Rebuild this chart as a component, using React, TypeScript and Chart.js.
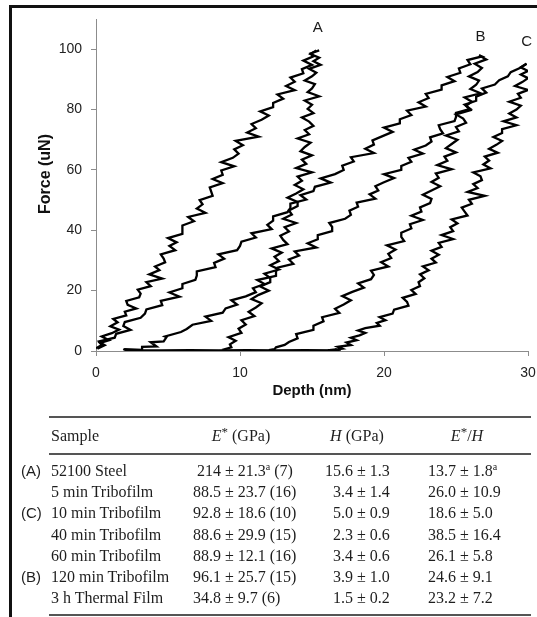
import React, { useEffect, useRef } from 'react';
import { Chart, registerables } from 'chart.js';

Chart.register(...registerables);

// ---------- chart data: [depth (nm), force (uN)] ----------
const curveALoad: [number, number][] = [
  [0.1,0.8],[0.6,1.9],[0.3,2.7],[0.9,3.6],[0.4,4.8],[1.1,5.9],[1.6,7.1],[1.0,8.2],[1.5,9.5],[1.2,10.6],
  [2.1,11.8],[2.0,13.0],[2.8,14.1],[2.2,15.3],[2.1,16.6],[3.0,17.8],[3.1,19.0],[2.9,20.3],[3.8,21.5],[3.5,22.8],
  [4.6,24.0],[3.7,25.4],[4.4,26.8],[4.1,28.0],[4.8,29.4],[4.7,30.6],[4.5,32.0],[5.5,33.4],[5.1,34.8],[5.6,36.0],
  [5.0,37.4],[6.0,38.8],[6.0,40.2],[6.0,41.6],[6.8,43.0],[6.4,44.4],[7.6,45.8],[7.0,47.2],[7.4,48.6],[7.2,50.0],
  [8.1,51.4],[8.0,52.8],[7.9,54.2],[8.8,55.6],[8.1,57.0],[8.8,58.4],[8.7,59.8],[9.6,61.2],[8.7,62.6],[9.5,64.0],
  [9.9,65.4],[9.6,66.8],[10.2,68.2],[9.7,69.6],[11.3,71.0],[10.5,72.4],[11.1,73.8],[10.8,75.2],[11.5,76.6],[12.0,78.0],
  [11.4,79.4],[12.3,80.8],[12.3,82.2],[13.0,83.6],[12.6,85.0],[13.8,86.4],[13.2,87.8],[13.8,89.2],[13.5,90.6],[14.4,92.0],
  [14.3,93.4],[15.0,94.8],[14.4,96.2],[15.1,97.6],[14.9,98.6],[15.5,99.6],
];
const curveAUnload: [number, number][] = [
  [15.3,99.6],[14.9,98.4],[15.5,97.2],[15.1,96.0],[15.6,94.8],[14.8,93.5],[15.3,92.2],[15.0,91.0],[14.5,89.6],[15.2,88.4],
  [15.0,87.0],[14.7,85.8],[15.5,84.4],[14.5,83.0],[15.0,81.6],[14.7,80.2],[15.1,78.8],[14.3,77.4],[14.8,76.0],[15.1,74.6],
  [14.5,73.2],[14.8,71.8],[14.0,70.4],[14.9,69.0],[14.5,67.6],[14.2,66.2],[15.0,64.8],[14.3,63.4],[14.6,62.0],[13.9,60.6],
  [15.0,59.2],[14.0,57.8],[14.3,56.4],[13.8,55.0],[14.4,53.6],[13.9,52.2],[13.3,50.8],[14.0,49.4],[14.0,48.0],[13.4,46.6],
  [13.6,45.2],[13.0,43.8],[13.9,42.4],[13.1,41.0],[13.4,39.6],[12.8,38.2],[13.0,36.8],[13.3,35.4],[12.2,34.0],[12.9,32.6],
  [12.4,31.2],[12.7,29.8],[12.1,28.4],[12.7,27.0],[11.7,25.6],[12.1,24.2],[12.1,22.8],[11.4,21.4],[12.0,20.0],[11.3,18.6],
  [10.8,17.2],[11.5,15.8],[11.1,14.4],[10.6,13.0],[11.0,11.6],[10.1,10.2],[10.4,8.8],[9.9,7.4],[10.1,6.0],[9.2,4.6],
  [9.7,3.4],[9.3,2.2],[9.4,1.2],[8.9,0.5],[9.0,0.2],[8.8,0.1],
];
const curveBLoad: [number, number][] = [
  [0.0,0.9],[0.4,2.0],[0.2,3.2],[1.3,4.4],[1.4,5.7],[2.4,7.0],[1.9,8.3],[2.0,9.6],[3.1,11.0],[3.4,12.4],
  [3.5,13.8],[4.6,15.2],[4.5,16.6],[5.8,18.0],[5.1,19.4],[6.0,20.8],[6.0,22.2],[6.9,23.6],[7.0,25.0],[7.0,26.4],
  [8.3,27.8],[8.2,29.2],[8.9,30.6],[8.5,32.0],[9.8,33.4],[10.0,34.8],[10.1,36.2],[11.1,37.6],[10.8,39.0],[12.2,40.4],
  [11.9,41.8],[12.3,43.2],[12.3,44.6],[13.3,46.0],[13.5,47.4],[13.5,48.8],[14.6,50.2],[14.2,51.6],[15.1,53.0],[15.2,54.4],
  [16.3,55.8],[15.6,57.2],[16.6,58.6],[17.2,60.0],[17.1,61.4],[17.9,62.8],[17.7,64.2],[19.3,65.6],[18.7,67.0],[19.3,68.4],
  [19.2,69.8],[19.9,71.2],[20.6,72.6],[20.0,74.0],[21.1,75.4],[21.1,76.8],[21.9,78.2],[21.6,79.6],[22.9,81.0],[22.4,82.4],
  [23.1,83.8],[22.9,85.2],[24.0,86.6],[24.0,88.0],[24.9,89.4],[24.4,90.8],[25.3,92.2],[25.2,93.6],[26.0,95.0],[25.8,96.4],
  [26.8,97.6],[26.6,98.0],
];
const curveBUnload: [number, number][] = [
  [26.6,98.0],[27.1,96.6],[26.3,95.2],[26.8,93.8],[26.5,92.4],[25.9,91.0],[26.6,89.6],[26.4,88.2],[26.0,86.8],[26.7,85.4],
  [25.6,84.0],[26.1,82.6],[25.7,81.2],[26.0,79.8],[25.0,78.4],[25.5,77.0],[25.7,75.6],[25.0,74.2],[25.2,72.8],[24.3,71.4],
  [25.1,70.0],[24.7,68.6],[24.3,67.2],[25.0,65.8],[24.2,64.4],[24.4,63.0],[23.7,61.6],[24.7,60.2],[23.6,58.8],[23.8,57.4],
  [23.3,56.0],[23.9,54.6],[23.3,53.2],[22.7,51.8],[23.3,50.4],[23.2,49.0],[22.5,47.6],[22.6,46.2],[21.9,44.8],[22.7,43.4],
  [21.8,42.0],[21.9,40.6],[21.2,39.2],[21.2,37.8],[21.4,36.4],[20.2,35.0],[20.8,33.6],[20.3,32.2],[20.5,30.8],[19.8,29.4],
  [20.3,28.0],[19.1,26.6],[19.3,25.2],[19.1,23.8],[18.2,22.4],[18.6,21.0],[17.8,19.6],[17.1,18.2],[17.7,16.8],[17.2,15.4],
  [16.6,14.0],[16.9,12.6],[15.7,11.2],[15.8,9.8],[15.1,8.4],[15.1,7.0],[13.9,5.6],[14.0,4.2],[13.4,3.0],[13.1,2.0],
  [12.5,1.2],[12.4,0.6],[12.0,0.3],
];
const curveCLoad: [number, number][] = [
  [1.9,0.3],[2.0,0.6],[3.2,0.4],[3.2,1.4],[4.2,1.5],[3.8,2.9],[4.7,3.2],[4.9,4.6],[4.8,4.8],[5.9,6.3],
  [6.3,7.3],[6.7,8.7],[8.0,10.0],[7.6,11.4],[8.8,12.7],[9.0,14.1],[9.8,15.4],[9.4,16.8],[10.4,18.1],[11.1,19.5],
  [10.9,20.8],[11.7,22.2],[11.2,23.5],[12.5,24.9],[12.5,26.2],[12.6,27.6],[13.7,28.9],[13.4,30.3],[14.1,31.6],[13.8,33.0],
  [15.3,34.3],[14.7,35.7],[15.4,37.0],[15.4,38.4],[16.4,39.7],[16.4,41.1],[16.2,42.4],[17.3,43.8],[17.7,45.1],[17.6,46.5],
  [18.2,47.8],[18.1,49.2],[19.4,50.5],[19.0,51.9],[19.6,53.2],[19.4,54.6],[20.0,55.9],[20.7,57.3],[20.0,58.6],[21.2,60.0],
  [21.2,61.3],[21.9,62.7],[21.7,64.0],[22.7,65.4],[22.1,66.7],[22.9,68.1],[23.3,69.4],[23.2,70.8],[24.1,72.1],[23.9,73.5],
  [23.8,74.8],[24.9,76.2],[25.0,77.5],[25.0,78.9],[26.0,80.2],[25.6,81.6],[26.4,82.9],[26.4,84.3],[27.1,85.6],[26.8,87.0],
  [27.7,88.3],[28.0,89.7],[28.6,91.0],[28.8,92.4],[29.4,93.7],[29.9,95.2],
];
const curveCUnload: [number, number][] = [
  [29.9,95.2],[29.5,94.0],[30.0,92.8],[29.5,91.6],[30.0,90.4],[29.6,89.1],[29.1,87.8],[30.0,86.5],[29.3,85.2],[29.5,83.9],
  [28.7,82.6],[29.5,81.3],[29.2,80.0],[28.7,78.7],[29.2,77.4],[28.3,76.1],[29.2,74.8],[28.2,73.5],[28.2,72.2],[27.6,70.9],
  [28.2,69.6],[27.8,68.3],[27.3,67.0],[27.9,65.7],[27.0,64.4],[27.3,63.1],[26.9,61.8],[27.4,60.5],[26.2,59.2],[26.7,57.9],
  [26.8,56.6],[26.2,55.3],[26.5,54.0],[25.8,52.7],[27.0,51.4],[25.9,50.1],[26.1,48.8],[25.4,47.5],[25.6,46.2],[25.8,44.9],
  [24.7,43.6],[25.1,42.3],[24.6,41.0],[24.8,39.7],[24.0,38.4],[24.8,37.1],[23.8,35.8],[24.0,34.5],[23.3,33.2],[23.8,31.9],
  [23.3,30.6],[23.6,29.3],[22.7,28.0],[23.1,26.7],[22.5,25.4],[22.8,24.1],[22.4,22.8],[22.5,21.5],[21.9,20.2],[22.2,18.9],
  [21.3,17.6],[21.6,16.3],[21.7,15.0],[20.7,13.7],[20.6,12.4],[19.7,11.2],[20.1,10.2],[19.5,9.3],[19.7,8.4],[18.7,7.6],
  [18.2,6.8],[18.7,6.0],[18.3,5.2],[17.7,4.4],[18.1,3.6],[17.4,2.8],[17.7,2.0],[16.8,1.4],[17.1,0.8],[16.6,0.5],
  [17.0,0.3],[16.7,0.2],[14.5,0.3],[12.5,0.2],[10.5,0.3],[8.5,0.2],[6.5,0.3],[4.5,0.2],[2.0,0.2],
];
const allCurves = [curveALoad, curveAUnload, curveBLoad, curveBUnload, curveCLoad, curveCUnload];

const curveLabels = ['A', 'B', 'C'];
const curveLabelDepth = [15.4, 26.7, 29.9];
const curveLabelForce = [107.2, 104.2, 102.5];

const xTitle = 'Depth (nm)';
const yTitle = 'Force (uN)';
const xMin = 0, xMax = 30, xStep = 10;
const yMin = 0, yMax = 110, yStep = 20;

// ---------- table data ----------
const headSample = 'Sample';
const sampleNames = ['52100 Steel', '5 min Tribofilm', '10 min Tribofilm', '40 min Tribofilm', '60 min Tribofilm', '120 min Tribofilm', '3 h Thermal Film'];
const curveMarks = ['(A)', '', '(C)', '', '', '(B)', ''];
const eMean = ['214', '88.5', '92.8', '88.6', '88.9', '96.1', '34.8'];
const eErr = ['21.3', '23.7', '18.6', '29.9', '12.1', '25.7', '9.7'];
const eNote = ['a', '', '', '', '', '', ''];
const eCount = ['7', '16', '10', '15', '16', '15', '6'];
const hMean = ['15.6', '3.4', '5.0', '2.3', '3.4', '3.9', '1.5'];
const hErr = ['1.3', '1.4', '0.9', '0.6', '0.6', '1.0', '0.2'];
const rMean = ['13.7', '26.0', '18.6', '38.5', '26.1', '24.6', '23.2'];
const rErr = ['1.8', '10.9', '5.0', '16.4', '5.8', '9.1', '7.2'];
const rNote = ['a', '', '', '', '', '', ''];

const SANS = '"Liberation Sans", Arial, Helvetica, sans-serif';
const SERIF = '"Liberation Serif", "Times New Roman", Times, serif';

const labelPlugin = {
  id: 'curveLabels',
  afterDraw(chart: any) {
    const { ctx, scales, chartArea } = chart;
    const x = scales.x, y = scales.y;
    ctx.save();
    ctx.fillStyle = '#1a1a1a';
    ctx.font = `15px ${SANS}`;
    ctx.textAlign = 'center';
    ctx.textBaseline = 'middle';
    curveLabels.forEach((t, i) => {
      ctx.fillText(t, x.getPixelForValue(curveLabelDepth[i]), y.getPixelForValue(curveLabelForce[i]));
    });
    ctx.translate(chartArea.left - 50, (chartArea.top + chartArea.bottom) / 2 - 11);
    ctx.rotate(-Math.PI / 2);
    ctx.font = `bold 16px ${SANS}`;
    ctx.fillStyle = '#111';
    ctx.fillText(yTitle, 0, 0);
    ctx.restore();
  },
};

function ForceChart() {
  const ref = useRef<HTMLCanvasElement>(null);
  useEffect(() => {
    if (!ref.current) return;
    const axisColor = '#8c8c8c';
    const tickFont = { family: SANS, size: 14 };
    const chart = new Chart(ref.current, {
      type: 'scatter',
      data: {
        datasets: allCurves.map((c) => ({
          data: c.map(([d, f]) => ({ x: d, y: f })),
          showLine: true,
          borderColor: '#000',
          backgroundColor: '#000',
          borderWidth: 2.3,
          pointRadius: 0,
          fill: false,
          tension: 0,
        })),
      },
      options: {
        responsive: false,
        animation: false,
        devicePixelRatio: 1,
        layout: { padding: { left: 30, right: 9, top: 19, bottom: 0 } },
        plugins: { legend: { display: false }, tooltip: { enabled: false } },
        scales: {
          x: {
            type: 'linear',
            min: xMin,
            max: xMax,
            afterFit: (s: any) => { s.height = 53; s.paddingLeft = 0; s.paddingRight = 0; },
            ticks: { stepSize: xStep, padding: 9, color: '#222', font: tickFont, maxRotation: 0 },
            grid: { drawOnChartArea: false, drawTicks: true, tickLength: 5, color: axisColor },
            border: { display: true, color: axisColor, width: 1 },
            title: { display: true, text: xTitle, color: '#111', font: { family: SANS, size: 15, weight: 'bold' }, padding: { top: 4, bottom: 4 } },
          },
          y: {
            type: 'linear',
            min: yMin,
            max: yMax,
            afterFit: (s: any) => { s.width = 66; s.paddingTop = 0; s.paddingBottom = 0; },
            ticks: { stepSize: yStep, padding: 9, color: '#222', font: tickFont, includeBounds: false },
            grid: { drawOnChartArea: false, drawTicks: true, tickLength: 5, color: axisColor },
            border: { display: true, color: axisColor, width: 1 },
            title: { display: false },
          },
        },
      } as any,
      plugins: [labelPlugin],
    });
    return () => chart.destroy();
  }, []);
  return (
    <canvas
      ref={ref}
      width={537}
      height={404}
      style={{ position: 'absolute', left: 0, top: 0, width: 537, height: 404 }}
    />
  );
}

const ROW0 = 471;
const ROW_STEP = 21.2;
const HEAD_Y = 436;

function Sup({ t }: { t: string }) {
  if (!t) return null;
  return <span style={{ fontSize: 10, position: 'relative', top: -6 }}>{t}</span>;
}

function PropTable() {
  const txt: React.CSSProperties = {
    position: 'absolute',
    fontFamily: SERIF,
    fontSize: 16,
    lineHeight: '20px',
    color: '#1e1e1e',
    whiteSpace: 'pre',
  };
  const rule = (top: number) => (
    <div style={{ position: 'absolute', left: 49, width: 482, top, height: 2, background: '#555' }} />
  );
  const centered = (cx: number, top: number, node: React.ReactNode) => (
    <div style={{ ...txt, left: cx - 70, width: 140, top, textAlign: 'center' }}>{node}</div>
  );
  const headTop = HEAD_Y - 10;
  return (
    <>
      {rule(416)}
      {rule(453)}
      {rule(614)}
      <div style={{ ...txt, left: 51, top: headTop }}>{headSample}</div>
      {centered(241, headTop, <span><i>E</i><span style={{ fontSize: 13, position: 'relative', top: -5 }}>*</span> (GPa)</span>)}
      {centered(357, headTop, <span><i>H</i> (GPa)</span>)}
      {centered(467, headTop, <span><i>E</i><span style={{ fontSize: 13, position: 'relative', top: -5 }}>*</span>/<i>H</i></span>)}
      {sampleNames.map((name, i) => {
        const top = Math.round(ROW0 + i * ROW_STEP - 10);
        return (
          <React.Fragment key={name}>
            {curveMarks[i] && (
              <div style={{ ...txt, fontFamily: SANS, fontSize: 15, left: 21, top }}>{curveMarks[i]}</div>
            )}
            <div style={{ ...txt, left: 51, top }}>{name}</div>
            <div style={{ ...txt, left: 100, width: 121, top, textAlign: 'right' }}>{eMean[i]}</div>
            <div style={{ ...txt, left: 221, top }}>
              {' \u00b1 ' + eErr[i]}<Sup t={eNote[i]} />{' (' + eCount[i] + ')'}
            </div>
            <div style={{ ...txt, left: 250, width: 103, top, textAlign: 'right' }}>{hMean[i]}</div>
            <div style={{ ...txt, left: 353, top }}>{' \u00b1 ' + hErr[i]}</div>
            <div style={{ ...txt, left: 380, width: 76, top, textAlign: 'right' }}>{rMean[i]}</div>
            <div style={{ ...txt, left: 456, top }}>
              {' \u00b1 ' + rErr[i]}<Sup t={rNote[i]} />
            </div>
          </React.Fragment>
        );
      })}
    </>
  );
}

export default function App() {
  return (
    <div
      style={{
        position: 'absolute',
        left: 0,
        top: 0,
        width: 537,
        height: 617,
        overflow: 'hidden',
        background: '#fff',
      }}
    >
      <ForceChart />
      <div
        style={{
          position: 'absolute',
          left: 9,
          top: 5,
          width: 540,
          height: 620,
          borderTop: '3px solid #111',
          borderLeft: '3px solid #111',
          pointerEvents: 'none',
        }}
      />
      <PropTable />
    </div>
  );
}
